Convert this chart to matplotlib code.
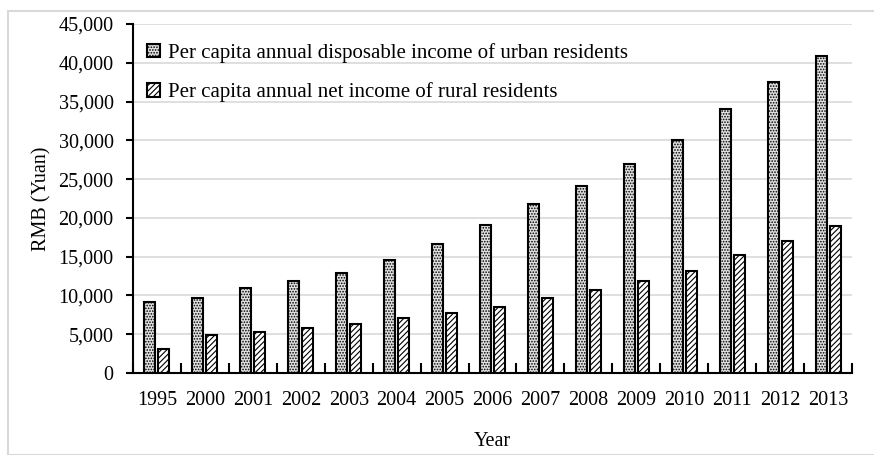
import numpy as np
import matplotlib
matplotlib.use('Agg')
import matplotlib.pyplot as plt
from matplotlib.patches import Rectangle
from matplotlib.ticker import FuncFormatter

years = ['1995', '2000', '2001', '2002', '2003', '2004', '2005', '2006',
         '2007', '2008', '2009', '2010', '2011', '2012', '2013']
urban = [9120, 9670, 10920, 11820, 12930, 14570, 16630, 19080,
         21750, 24100, 26900, 30040, 34080, 37560, 40900]
rural = [3050, 4940, 5330, 5760, 6270, 7050, 7700, 8550,
         9630, 10700, 11860, 13200, 15260, 17020, 18950]
urban_label = 'Per capita annual disposable income of urban residents'
rural_label = 'Per capita annual net income of rural residents'

plt.rcParams['font.family'] = ['Liberation Serif', 'DejaVu Serif']
plt.rcParams['hatch.linewidth'] = 0.8
fs = 15
tfs = 14.5

fig = plt.figure(figsize=(8.74, 4.55), dpi=100)
# light frame around the whole chart
fig.patches.append(Rectangle((8 / 874, 0), 2, 1 - 11 / 455, transform=fig.transFigure,
                             fill=False, edgecolor='#d9d9d9', linewidth=1.5))
ax = fig.add_axes([133 / 874, 1 - 373 / 455, (852 - 133) / 874, (373 - 24) / 455])

x = np.arange(len(years))
w = 0.23
off = 0.146
ax.bar(x - off, urban, w, facecolor='#e0e0e0', edgecolor='black', linewidth=1.5,
       hatch='......', label=urban_label, zorder=3)
ax.bar(x + off, rural, w, facecolor='white', edgecolor='black', linewidth=1.5,
       hatch='//////', label=rural_label, zorder=3)

ax.set_xlim(-0.5, len(years) - 0.5)
ax.set_ylim(0, 45000)
ax.set_yticks(np.arange(0, 45001, 5000))
ax.yaxis.set_major_formatter(FuncFormatter(lambda v, p: f'{int(v):,}'))
ax.yaxis.grid(True, color='#d9d9d9', linewidth=1.2, zorder=0)
ax.set_axisbelow(True)

ax.set_xticks(x)
ax.set_xticklabels(years)
ax.set_xticks(np.arange(-0.5, len(years), 1), minor=True)
ax.tick_params(axis='x', which='major', length=0, pad=13, labelsize=tfs)
ax.tick_params(axis='x', which='minor', direction='in', length=7, width=1.5)
ax.tick_params(axis='y', direction='out', length=5, width=1.5, labelsize=tfs, pad=9)

for s in ['top', 'right']:
    ax.spines[s].set_visible(False)
ax.spines['left'].set_linewidth(1.5)
ax.spines['bottom'].set_linewidth(1.5)

ax.set_ylabel('RMB (Yuan)', fontsize=tfs, labelpad=5)
ax.set_xlabel('Year', fontsize=tfs, labelpad=16)

ax.legend(loc='upper left', bbox_to_anchor=(-0.006, 1.0), frameon=False, fontsize=fs,
          handlelength=0.6, handleheight=0.6, labelspacing=0.95, handletextpad=0.4,
          borderaxespad=0.5)

fig.savefig('out.png', dpi=100)
